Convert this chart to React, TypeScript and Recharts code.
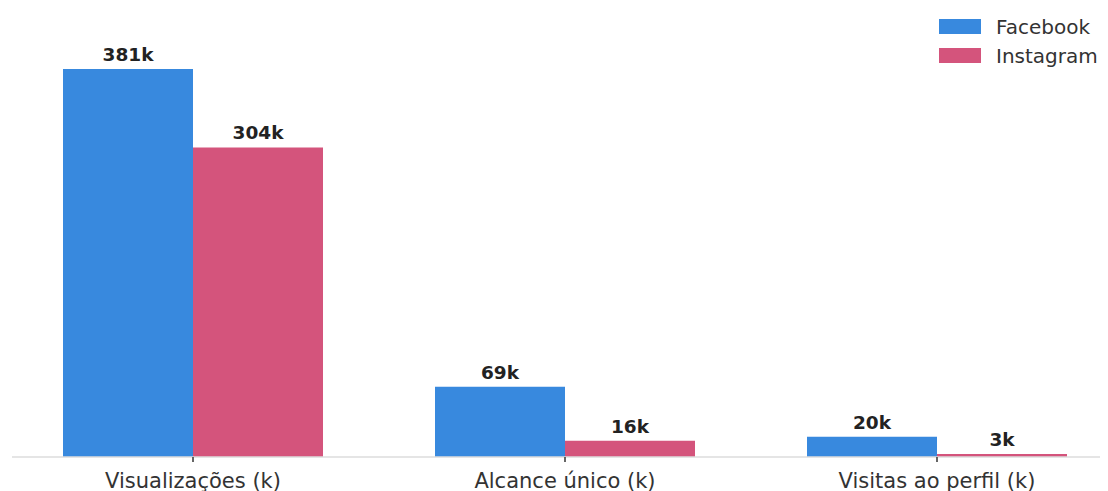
import React from "react";
import { BarChart, Bar, XAxis, YAxis, LabelList } from "recharts";

const categories = ["Visualizações (k)", "Alcance único (k)", "Visitas ao perfil (k)"];
const facebook = [381, 69, 20];
const instagram = [304, 16, 3];

const FB_COLOR = "#3889de";
const IG_COLOR = "#d4547c";

const data = categories.map((name, i) => ({
  name,
  facebook: facebook[i],
  instagram: instagram[i],
}));

const legendItems = [
  { label: "Facebook", color: FB_COLOR },
  { label: "Instagram", color: IG_COLOR },
];

// legend drawn as html on top of the svg so it doesn't eat plot height
const ChartLegend = () => (
  <div style={{ position: "absolute", left: 931, top: 4 }}>
    {legendItems.map((item) => (
      <div
        key={item.label}
        style={{ display: "flex", alignItems: "center", height: 29 }}
      >
        <span
          style={{
            display: "inline-block",
            width: 42,
            height: 15,
            background: item.color,
            marginRight: 15,
          }}
        />
        <span style={{ fontSize: 20, color: "#333" }}>{item.label}</span>
      </div>
    ))}
  </div>
);

const labelStyle = { fontSize: 18.5, fontWeight: "bold" as const };

const App = () => {
  return (
    <div
      style={{
        width: 1100,
        height: 483,
        overflow: "hidden",
        position: "relative",
        fontFamily: "'DejaVu Sans', sans-serif",
      }}
    >
      <BarChart
        width={1115}
        height={483}
        data={data}
        margin={{ top: 41.6, right: 0, left: 4, bottom: 0 }}
        barGap={0}
        barCategoryGap={56}
      >
        <XAxis
          dataKey="name"
          interval={0}
          padding={{ left: -5, right: 0 }}
          height={34}
          axisLine={{ stroke: "#dddddd", strokeWidth: 1.5 }}
          tickLine={{ stroke: "#333", strokeWidth: 1.5 }}
          tickSize={5}
          tickMargin={11}
          tick={{ fill: "#333", fontSize: 21 }}
        />
        <YAxis hide domain={[0, 400]} />
        <Bar dataKey="facebook" fill={FB_COLOR} isAnimationActive={false}>
          <LabelList
            dataKey="facebook"
            position="top"
            offset={8}
            fill="#222"
            style={labelStyle}
            formatter={(v: any) => `${v}k`}
          />
        </Bar>
        <Bar dataKey="instagram" fill={IG_COLOR} isAnimationActive={false}>
          <LabelList
            dataKey="instagram"
            position="top"
            offset={8}
            fill="#222"
            style={labelStyle}
            formatter={(v: any) => `${v}k`}
          />
        </Bar>
      </BarChart>
      <ChartLegend />
    </div>
  );
};

export default App;
